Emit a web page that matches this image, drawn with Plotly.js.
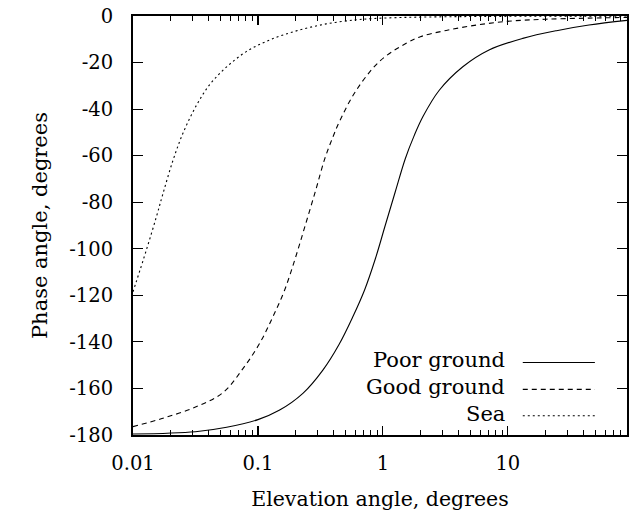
<!DOCTYPE html>
<html>
<head>
<meta charset="utf-8">
<script src="https://cdn.plot.ly/plotly-3.0.1.min.js"></script>
<style>
  html, body { margin: 0; padding: 0; background: #fff; }
  #plot { width: 641px; height: 518px; }
</style>
</head>
<body>
<div id="plot"></div>
<script>
// Phase of the ground-reflection coefficient vs elevation angle

const seaElev = [0.01, 0.0128, 0.0154, 0.0174, 0.0209, 0.0251, 0.0321, 0.0411, 0.0558, 0.0807, 0.124, 0.203, 0.352, 0.6, 0.83, 1.5, 3, 6, 15, 40, 90];
const seaPhase = [-118.5, -100.5, -86.2, -76.2, -62.0, -50.4, -38.5, -29.5, -22.0, -15.3, -10.3, -6.4, -3.4, -1.7, -1.1, -0.6, -0.35, -0.2, -0.1, -0.05, -0.03];

const goodElev = [0.01, 0.01738, 0.03162, 0.05248, 0.07586, 0.1033, 0.1318, 0.1637, 0.1995, 0.2399, 0.2884, 0.342, 0.398, 0.4498, 0.6026, 0.9397, 1.538, 1.995, 3.214, 5.929, 10.96, 19.95, 44.67, 90];
const goodPhase = [-176.4, -172.8, -168.0, -161.8, -151.5, -140.6, -129.2, -117.7, -103.9, -89.7, -75.3, -61.5, -52.0, -45.3, -32.5, -19.5, -11.7, -8.9, -6.2, -3.7, -2.1, -1.4, -0.9, -0.6];

const poorElev = [0.01, 0.0316, 0.0562, 0.1, 0.148, 0.229, 0.331, 0.447, 0.575, 0.714, 0.871, 1.047, 1.259, 1.514, 1.778, 2.089, 2.818, 4.365, 7.079, 13.18, 24.55, 44.67, 90];
const poorPhase = [-179.6, -178.6, -176.7, -173.4, -169.4, -162.1, -152.1, -141.0, -129.2, -117.7, -104.3, -89.8, -75.4, -61.2, -51.5, -43.3, -32.0, -21.8, -14.6, -9.6, -6.3, -3.9, -1.9];

const seriesNames = ['Poor ground', 'Good ground', 'Sea'];

const xTickVals = [0.01, 0.1, 1, 10];
const xTickText = ['0.01', '0.1', '1', '10'];
const xMinorVals = [0.02,0.03,0.04,0.05,0.06,0.07,0.08,0.09,
                    0.2,0.3,0.4,0.5,0.6,0.7,0.8,0.9,
                    2,3,4,5,6,7,8,9,
                    20,30,40,50,60,70,80,90];
const yTickVals = [-180, -160, -140, -120, -100, -80, -60, -40, -20, 0];
const yTickText = ['-180', '-160', '-140', '-120', '-100', '-80', '-60', '-40', '-20', '0'];

const FONT = 'DejaVu Serif';

const styles = [
  { color: '#000', width: 1.1, dash: 'solid' },
  { color: '#000', width: 1.1, dash: '5px,4px' },
  { color: '#000', width: 1.1, dash: '2px,3px' }
];

const traces = [
  { x: poorElev, y: poorPhase, name: seriesNames[0] },
  { x: goodElev, y: goodPhase, name: seriesNames[1] },
  { x: seaElev, y: seaPhase, name: seriesNames[2] }
].map((t, i) => Object.assign(t, {
  type: 'scatter', mode: 'lines', line: Object.assign({ shape: 'spline', smoothing: 1 }, styles[i]),
  showlegend: false, hoverinfo: 'skip'
}));

// Key: right-aligned labels with the line sample to their right
const keyRows = [0.178, 0.114, 0.051];
const annotations = seriesNames.map((n, i) => ({
  xref: 'paper', yref: 'paper', x: 0.757, y: keyRows[i],
  xanchor: 'right', yanchor: 'middle', text: n, showarrow: false,
  font: { family: FONT, size: 21, color: '#000' }
}));
const shapes = seriesNames.map((n, i) => ({
  type: 'line', xref: 'paper', yref: 'paper',
  x0: 0.789, x1: 0.935, y0: keyRows[i] - 0.005, y1: keyRows[i] - 0.005,
  line: { color: '#000', width: styles[i].width, dash: styles[i].dash }
}));

const layout = {
  width: 641, height: 518,
  margin: { l: 133, r: 14, t: 16, b: 83, pad: 0 },
  paper_bgcolor: '#fff', plot_bgcolor: '#fff',
  font: { family: FONT, size: 20, color: '#000' },
  showlegend: false,
  xaxis: {
    type: 'log', range: [Math.log10(0.01), Math.log10(90)],
    tickvals: xTickVals, ticktext: xTickText,
    ticks: 'inside', ticklen: 9, tickwidth: 1.2, tickcolor: '#000',
    minor: { tickvals: xMinorVals, ticks: 'inside', ticklen: 5, tickwidth: 1, tickcolor: '#000', showgrid: false },
    showline: true, linecolor: '#000', linewidth: 2, mirror: 'ticks',
    showgrid: false, zeroline: false,
    ticklabelstandoff: 10,
    tickfont: { family: FONT, size: 19.5, color: '#000' },
    title: { text: 'Elevation angle, degrees', font: { family: FONT, size: 20.5, color: '#000' }, standoff: 17 }
  },
  yaxis: {
    range: [-180, 0],
    tickvals: yTickVals, ticktext: yTickText,
    ticks: 'inside', ticklen: 10, tickwidth: 1.2, tickcolor: '#000',
    showline: true, linecolor: '#000', linewidth: 2, mirror: 'ticks',
    showgrid: false, zeroline: false,
    ticklabelstandoff: 14,
    tickfont: { family: FONT, size: 19.5, color: '#000' },
    title: { text: 'Phase angle, degrees', font: { family: FONT, size: 21, color: '#000' }, standoff: 16 }
  },
  annotations: annotations,
  shapes: shapes
};

Plotly.newPlot('plot', traces, layout, { staticPlot: true, displayModeBar: false });
</script>
</body>
</html>
